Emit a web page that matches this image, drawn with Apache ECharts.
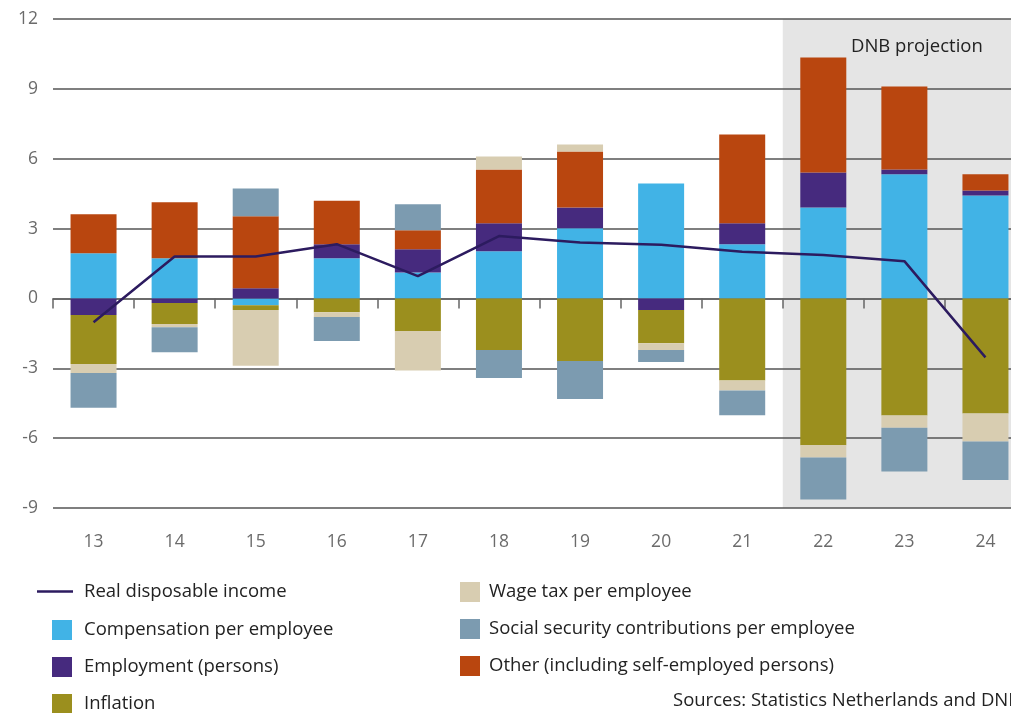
<!DOCTYPE html>
<html>
<head>
<meta charset="utf-8">
<script src="https://cdn.jsdelivr.net/npm/echarts@6/dist/echarts.min.js"></script>
<style>
html,body{margin:0;padding:0;background:#fff;}
#chart{width:1011px;height:713px;}
</style>
</head>
<body>
<div id="chart"></div>
<script>
var years = ['13','14','15','16','17','18','19','20','21','22','23','24'];
var compensation = [1.94, 1.73, -0.29, 1.73, 1.11, 2.03, 3.01, 4.94, 2.33, 3.91, 5.33, 4.42];
var employment   = [-0.71, -0.20, 0.44, 0.60, 1.00, 1.20, 0.90, -0.50, 0.90, 1.50, 0.21, 0.22];
var inflation    = [-2.11, -0.90, -0.21, -0.59, -1.40, -2.22, -2.69, -1.42, -3.52, -6.31, -5.03, -4.94];
var other        = [1.67, 2.40, 3.09, 1.87, 0.82, 2.31, 2.40, 0, 3.81, 4.94, 3.56, 0.69];
var wageTax      = [-0.38, -0.14, -2.39, -0.21, -1.70, 0.56, 0.30, -0.30, -0.43, -0.52, -0.52, -1.20];
var socialSec    = [-1.50, -1.07, 1.19, -1.03, 1.11, -1.20, -1.63, -0.51, -1.07, -1.80, -1.88, -1.66];
var realIncome   = [-1.02, 1.80, 1.80, 2.33, 0.96, 2.68, 2.40, 2.31, 2.00, 1.87, 1.60, -2.53];
var yTicks = {min: -9, max: 12, interval: 3};
var projectionStart = '22';

var FONT = '"Open Sans", "Noto Sans", sans-serif';
var names = {
  line: 'Real disposable income',
  comp: 'Compensation per employee',
  emp: 'Employment (persons)',
  infl: 'Inflation',
  wage: 'Wage tax per employee',
  soc: 'Social security contributions per employee',
  oth: 'Other (including self-employed persons)'
};
var colors = {
  comp: '#41b3e6', emp: '#462a7e', infl: '#9b8f1e', wage: '#d8cdb1',
  soc: '#7c9bb0', oth: '#b9460f', line: '#2c1b5f'
};

function barSeries(key, data) {
  return {
    name: names[key], type: 'bar', stack: 'total', barWidth: 46,
    data: data, itemStyle: {color: colors[key]}, z: 2,
    emphasis: {disabled: true}
  };
}

var chart = echarts.init(document.getElementById('chart'), null, {renderer: 'canvas'});
var legendText = {fontFamily: FONT, fontSize: 18.5, color: '#222'};

chart.setOption({
  animation: false,
  backgroundColor: '#fff',
  grid: {left: 53, width: 973, top: 19, bottom: 205, containLabel: false, outerBoundsMode: 'none'},
  xAxis: {
    type: 'category', data: years,
    axisLine: {lineStyle: {color: '#666', width: 1.5}},
    axisTick: {show: true, length: 10, alignWithLabel: false, lineStyle: {color: '#666', width: 1.5}},
    axisLabel: {fontFamily: FONT, fontSize: 17.5, color: '#6b6b6b', margin: 25},
    splitLine: {show: false}
  },
  yAxis: {
    type: 'value', min: yTicks.min, max: yTicks.max, interval: yTicks.interval,
    axisLine: {show: false}, axisTick: {show: false},
    axisLabel: {fontFamily: FONT, fontSize: 17.5, color: '#6b6b6b', margin: 15},
    splitLine: {lineStyle: {color: '#555', width: 1.5}}
  },
  legend: [
    {
      data: [names.line], orient: 'vertical', left: 37, top: 582, padding: 0, height: 40,
      itemWidth: 36, itemHeight: 20, icon: 'path://M0,0 H36 V2.6 H0 Z',
      itemStyle: {color: colors.line},
      textStyle: Object.assign({padding: [0, 0, 0, 6]}, legendText),
      selectedMode: false
    },
    {
      data: [names.comp, names.emp, names.infl], orient: 'vertical', left: 52, top: 620,
      padding: 0, height: 130,
      itemWidth: 20, itemHeight: 20, itemGap: 17, icon: 'rect',
      textStyle: Object.assign({padding: [0, 0, 0, 7]}, legendText),
      selectedMode: false
    },
    {
      data: [names.wage, names.soc, names.oth], orient: 'vertical', left: 460, top: 582,
      padding: 0, height: 130,
      itemWidth: 20, itemHeight: 20, itemGap: 17, icon: 'rect',
      textStyle: Object.assign({padding: [0, 0, 0, 4]}, legendText),
      selectedMode: false
    }
  ],
  series: [
    barSeries('comp', compensation),
    barSeries('emp', employment),
    barSeries('infl', inflation),
    barSeries('oth', other),
    barSeries('wage', wageTax),
    barSeries('soc', socialSec),
    {
      name: names.line, type: 'line', data: realIncome, z: 5,
      symbol: 'none', lineStyle: {color: colors.line, width: 2.5},
      itemStyle: {color: colors.line}, emphasis: {disabled: true}
    }
  ]
});

// shaded projection area behind bars and gridlines
var c0 = chart.convertToPixel({xAxisIndex: 0}, projectionStart);
var c1 = chart.convertToPixel({xAxisIndex: 0}, years[years.indexOf(projectionStart) + 1]);
var band = c1 - c0;
var yTop = chart.convertToPixel({yAxisIndex: 0}, yTicks.max);
var yBot = chart.convertToPixel({yAxisIndex: 0}, yTicks.min);
var xStart = c0 - band / 2;

chart.setOption({
  graphic: [
    {
      type: 'rect', z: -10, silent: true,
      shape: {x: xStart, y: yTop, width: 1011 - xStart + 20, height: yBot - yTop},
      style: {fill: '#e5e5e5'}
    },
    {
      type: 'text', z: 10, left: 851, top: 37,
      style: {text: 'DNB projection', font: '18.5px ' + FONT, fill: '#222'}
    },
    {
      type: 'text', z: 10, left: 673, top: 691,
      style: {text: 'Sources: Statistics Netherlands and DNB', font: '18.5px ' + FONT, fill: '#222'}
    }
  ]
});
</script>
</body>
</html>
